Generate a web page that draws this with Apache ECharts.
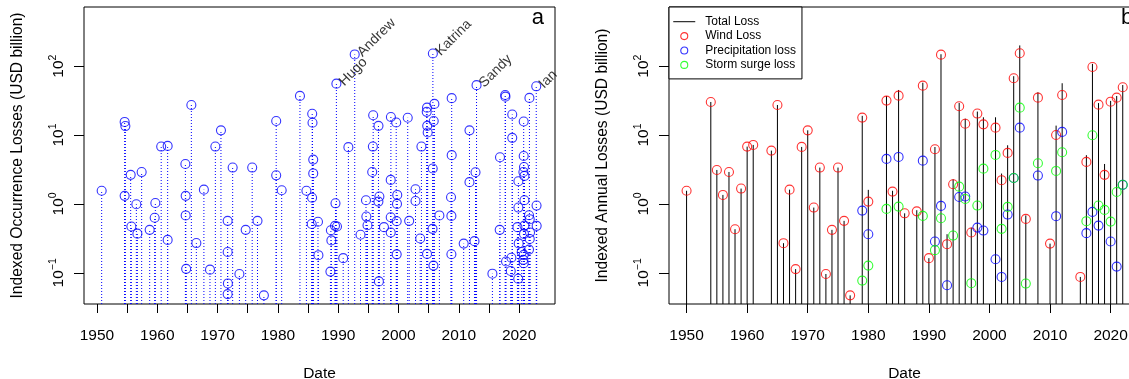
<!DOCTYPE html>
<html>
<head>
<meta charset="utf-8">
<script src="https://cdn.jsdelivr.net/npm/echarts@6/dist/echarts.min.js"></script>
<style>
  html, body { margin: 0; padding: 0; background: #fff; }
  #chart { width: 1129px; height: 379px; }
</style>
</head>
<body>
<div id="chart"></div>
<script>
// panel a: single events, decimal year and indexed loss (USD billion)
var eventYears = [
    1950.78, 1954.59, 1954.71, 1954.59, 1955.59, 1955.70, 1956.53, 1956.70, 1957.41, 1958.74,
    1959.57, 1959.68, 1960.65, 1961.72, 1961.72, 1964.66, 1964.71, 1964.71, 1964.79, 1965.65,
    1966.48, 1967.73, 1968.74, 1969.63, 1970.56, 1971.67, 1971.67, 1971.71, 1971.67, 1972.50,
    1973.62, 1974.66, 1975.74, 1976.62, 1977.68, 1979.72, 1979.72, 1980.63, 1983.66, 1984.73,
    1985.69, 1985.74, 1985.86, 1985.86, 1985.67, 1985.61, 1986.65, 1986.72, 1988.79, 1988.87,
    1988.71, 1989.55, 1989.47, 1989.80, 1989.70, 1990.83, 1991.69, 1992.74, 1993.70, 1994.61,
    1994.67, 1994.86, 1995.80, 1995.75, 1995.64, 1996.68, 1996.83, 1996.67, 1996.75, 1997.59,
    1998.74, 1998.71, 1998.71, 1998.71, 1999.62, 1999.79, 1999.75, 1999.70, 1999.70, 2001.53,
    2001.77, 2002.82, 2002.82, 2003.60, 2003.80, 2004.73, 2004.68, 2004.76, 2004.84, 2004.73,
    2005.70, 2005.95, 2005.84, 2005.67, 2005.64, 2005.79, 2006.78, 2008.82, 2008.82, 2008.71,
    2008.77, 2008.77, 2010.81, 2011.77, 2011.77, 2012.60, 2012.77, 2012.94, 2015.57, 2016.78,
    2016.83, 2017.69, 2017.73, 2017.83, 2018.61, 2018.72, 2018.86, 2018.86, 2019.85, 2019.88,
    2019.88, 2019.72, 2019.93, 2020.43, 2020.76, 2020.76, 2020.81, 2020.71, 2020.88, 2020.88,
    2020.88, 2020.81, 2020.76, 2020.71, 2020.76, 2021.71, 2021.64, 2021.76, 2021.81, 2021.76,
    2021.64, 2022.84, 2022.89, 2022.91
];
var eventLosses = [
    1.55, 15.5, 13.5, 1.31, 2.64, 0.47, 0.99, 0.37, 2.9, 0.42,
    0.63, 1.03, 6.8, 6.95, 0.30, 3.8, 1.31, 0.68, 0.114, 27.3,
    0.27, 1.61, 0.111, 6.8, 11.7, 0.567, 0.20, 0.07, 0.049, 3.37,
    0.096, 0.42, 3.37, 0.567, 0.047, 16.0, 2.6, 1.58, 37, 1.55,
    20.4, 15.1, 4.4, 2.77, 1.23, 0.51, 0.55, 0.18, 0.415, 0.295,
    0.104, 1.02, 0.48, 0.47, 55.7, 0.163, 6.67, 148, 0.357, 1.13,
    0.655, 0.49, 19.4, 6.8, 2.91, 13.6, 1.28, 1.08, 0.075, 0.46,
    18.3, 2.23, 0.64, 0.384, 15.2, 1.35, 1.0, 0.56, 0.185, 17.8,
    0.567, 1.63, 1.1, 0.314, 6.8, 25, 21.7, 13.6, 10.9, 0.188,
    153, 28.3, 16, 3.27, 0.434, 0.127, 0.68, 34.3, 5.1, 1.25,
    0.67, 0.186, 0.265, 11.7, 2.07, 0.288, 2.88, 53, 0.097, 0.42,
    4.76, 38.2, 36.1, 0.146, 0.106, 0.165, 19.9, 9.1, 0.082, 2.13,
    0.885, 0.46, 0.267, 0.2, 15.7, 4.97, 3.44, 2.91, 2.55, 1.13,
    0.484, 0.367, 0.182, 0.154, 0.138, 34.6, 0.685, 0.6, 0.384, 0.31,
    0.217, 51, 0.946, 0.48
];
var stormNames = ['Hugo', 'Andrew', 'Katrina', 'Sandy', 'Ian'];
var stormYears = [1989.70, 1992.74, 2005.70, 2012.94, 2022.84];

// panel b: yearly totals and their parts
var annualYears = [
    1950, 1954, 1955, 1956, 1957, 1958, 1959, 1960, 1961, 1964, 1965, 1966, 1967, 1968, 1969,
    1970, 1971, 1972, 1973, 1974, 1975, 1976, 1977, 1979, 1980, 1983, 1984, 1985, 1986, 1988,
    1989, 1990, 1991, 1992, 1993, 1994, 1995, 1996, 1997, 1998, 1999, 2001, 2002, 2003, 2004,
    2005, 2006, 2008, 2010, 2011, 2012, 2015, 2016, 2017, 2018, 2019, 2020, 2021, 2022
];
var totalLoss = [
    1.55, 30.2, 3.11, 1.35, 2.91, 0.429, 1.67, 6.79, 7.18, 5.94, 27.3, 0.269, 1.61, 0.113, 6.72,
    11.7, 0.885, 3.37, 0.096, 0.42, 3.37, 0.567, 0.047, 19, 1.6, 36.9, 1.55, 45.1, 0.73, 0.81,
    57.5, 0.163, 6.7, 149, 0.363, 2.28, 29.2, 17.3, 0.453, 21.9, 18.1, 18.1, 2.76, 7.1, 71.5,
    200, 0.68, 41.8, 0.265, 13.7, 56.5, 0.087, 5.1, 108, 29.1, 3.8, 31.3, 36.9, 53.2
];
var windLoss = [
    1.55, 30.2, 3.11, 1.35, 2.91, 0.429, 1.67, 6.79, 7.18, 5.94, 27.3, 0.269, 1.61, 0.113, 6.72,
    11.7, 0.885, 3.37, 0.096, 0.42, 3.37, 0.567, 0.047, 17.9, 1.08, 31.6, 1.51, 37.3, 0.73, 0.78,
    52.1, 0.163, 6.22, 147, 0.26, 1.93, 26.2, 14.6, 0.384, 20.5, 14.3, 12.8, 2.21, 5.5, 66.7,
    154, 0.606, 34.9, 0.265, 10.0, 38.2, 0.087, 4.07, 97.3, 27.6, 2.64, 30.5, 34.9, 49.4
];
var precipYears = [1979, 1980, 1983, 1985, 1989, 1991, 1992, 1993, 1995, 1996, 1998, 1999, 2001,
    2002, 2003, 2004, 2005, 2008, 2011, 2012, 2016, 2017, 2018, 2020, 2021, 2022];
var precipLoss = [0.8, 0.363, 4.5, 4.81, 4.25, 0.284, 0.935, 0.066, 1.26, 1.28, 0.453, 0.41, 0.157,
    0.087, 0.7, 2.38, 12.8, 2.58, 0.663, 11.1, 0.376, 0.766, 0.484, 0.284, 0.123, 1.89];
var surgeYears = [1979, 1980, 1983, 1985, 1989, 1991, 1992, 1994, 1995, 1996, 1997, 1998, 1999, 2001,
    2002, 2003, 2004, 2005, 2006, 2008, 2011, 2012, 2016, 2017, 2018, 2019, 2020, 2021, 2022];
var surgeLoss = [0.077, 0.127, 0.846, 0.914, 0.67, 0.213, 0.62, 0.347, 1.78, 1.18, 0.0706, 0.946, 3.25,
    5.14, 0.434, 0.904, 2.38, 25, 0.0697, 3.9, 3.01, 5.63, 0.561, 9.92, 0.946, 0.818, 0.553, 1.49, 1.9];

// ticks
var yearTicksA = [1950, 1955, 1960, 1965, 1970, 1975, 1980, 1985, 1990, 1995, 2000, 2005, 2010, 2015, 2020];
var yearLabels = [1950, 1960, 1970, 1980, 1990, 2000, 2010, 2020];
var powTicks = [0.1, 1, 10, 100];

var font = '"Liberation Sans", Arial, Helvetica, sans-serif';

function zip(xs, ys) {
    return xs.map(function (x, i) { return [x, ys[i]]; });
}

function powLabel(v) {
    var e = Math.round(Math.log(v) / Math.LN10);
    return '{b|10}{s|' + (e < 0 ? '\u2212' + (-e) : e) + '}';
}

// vertical line from the bottom of the plot up to the value
function stem(color, dash) {
    return function (params, api) {
        var p = api.coord([api.value(0), api.value(1)]);
        var bottom = params.coordSys.y + params.coordSys.height;
        return {
            type: 'line',
            silent: true,
            shape: {x1: p[0], y1: bottom, x2: p[0], y2: p[1]},
            style: {stroke: color, lineWidth: 1, lineDash: dash}
        };
    };
}

function xAxis(idx, min, max, ticks) {
    return {
        type: 'value', gridIndex: idx, min: min, max: max,
        splitLine: {show: false},
        axisLine: {show: false},
        axisTick: {show: true, length: 9, customValues: ticks, lineStyle: {color: '#000'}},
        axisLabel: {
            customValues: yearLabels, margin: 24, fontSize: 15.5, fontFamily: font, color: '#000',
            formatter: function (v) { return String(v); }
        },
        name: 'Date', nameLocation: 'middle', nameGap: 62,
        nameTextStyle: {fontSize: 15.5, fontFamily: font, color: '#000'}
    };
}

function yAxis(idx, title) {
    return {
        type: 'log', gridIndex: idx, min: 0.0352, max: 723,
        splitLine: {show: false},
        axisLine: {show: false},
        axisTick: {show: true, length: 10, customValues: powTicks, lineStyle: {color: '#000'}},
        axisLabel: {
            customValues: powTicks, rotate: 90, margin: 17, formatter: powLabel,
            rich: {
                b: {fontSize: 15.5, fontFamily: font, color: '#000', padding: [3, 0, 0, 0], verticalAlign: 'bottom'},
                s: {fontSize: 10.5, fontFamily: font, color: '#000', verticalAlign: 'top'}
            }
        },
        name: title, nameLocation: 'middle', nameGap: 58,
        nameTextStyle: {fontSize: 15.6, fontFamily: font, color: '#000'}
    };
}

function ring(color) {
    return {color: 'rgba(0,0,0,0)', borderColor: color, borderWidth: 1.1};
}

var eventData = eventYears.map(function (yr, i) {
    var item = {value: [yr, eventLosses[i]]};
    var k = stormYears.indexOf(yr);
    if (k >= 0) {
        item.label = {show: true, formatter: stormNames[k]};
    }
    return item;
});

var lineIcon = 'path://M0,0 M27,7 M0,3H22V4H0Z';
var ringIcon = 'path://M0,0 M27,7 M7.5,3.5A3.5,3.5,0,1,1,14.5,3.5A3.5,3.5,0,1,1,7.5,3.5Z';

var option = {
    animation: false,
    backgroundColor: '#fff',
    grid: [
        {left: 84, right: 574, top: 7, bottom: 75, outerBoundsMode: 'none', show: true, borderColor: '#000', borderWidth: 1},
        {left: 669, right: -11, top: 7, bottom: 75, outerBoundsMode: 'none', show: true, borderColor: '#000', borderWidth: 1}
    ],
    xAxis: [
        xAxis(0, 1947.85, 2025.95, yearTicksA),
        xAxis(1, 1947.1, 2024.85, yearLabels)
    ],
    yAxis: [
        yAxis(0, 'Indexed Occurrence Losses (USD billion)'),
        yAxis(1, 'Indexed Annual Losses (USD billion)')
    ],
    legend: {
        orient: 'vertical', left: 669, top: 7,
        padding: [7.7, 6, 7, 3.7],
        itemWidth: 27, itemHeight: 7, itemGap: 0.4,
        symbolKeepAspect: true,
        selectedMode: false,
        backgroundColor: '#fff', borderColor: '#000', borderWidth: 1,
        textStyle: {fontFamily: font, fontSize: 12, color: '#000', lineHeight: 14},
        data: [
            {name: 'Total Loss', icon: lineIcon, itemStyle: {color: '#000', borderWidth: 0}},
            {name: 'Wind Loss', icon: ringIcon, itemStyle: ring('#ff0000')},
            {name: 'Precipitation loss', icon: ringIcon, itemStyle: ring('#0000ff')},
            {name: 'Storm surge loss', icon: ringIcon, itemStyle: ring('#00ff00')}
        ]
    },
    graphic: [
        {type: 'text', x: 544, y: 18, style: {text: 'a', fontSize: 22, fontFamily: font, fill: '#000', align: 'right', verticalAlign: 'middle'}},
        {type: 'text', x: 1121, y: 18, style: {text: 'b', fontSize: 22, fontFamily: font, fill: '#000', align: 'left', verticalAlign: 'middle'}}
    ],
    series: [
        {
            name: 'event stems', type: 'custom', xAxisIndex: 0, yAxisIndex: 0, silent: true,
            renderItem: stem('#0000ff', [1, 2]), data: zip(eventYears, eventLosses), z: 1
        },
        {
            name: 'events', type: 'scatter', xAxisIndex: 0, yAxisIndex: 0, silent: true,
            symbol: 'circle', symbolSize: 9, itemStyle: ring('#0000ff'),
            label: {show: false, position: 'right', distance: 0, rotate: 45, fontSize: 14, fontFamily: font, color: '#000'},
            data: eventData, z: 2
        },
        {
            name: 'Total Loss', type: 'custom', xAxisIndex: 1, yAxisIndex: 1, silent: true,
            renderItem: stem('#000', null), data: zip(annualYears, totalLoss), z: 1
        },
        {
            name: 'Wind Loss', type: 'scatter', xAxisIndex: 1, yAxisIndex: 1, silent: true,
            symbol: 'circle', symbolSize: 9, itemStyle: ring('#ff0000'),
            data: zip(annualYears, windLoss), z: 2
        },
        {
            name: 'Precipitation loss', type: 'scatter', xAxisIndex: 1, yAxisIndex: 1, silent: true,
            symbol: 'circle', symbolSize: 9, itemStyle: ring('#0000ff'),
            data: zip(precipYears, precipLoss), z: 2
        },
        {
            name: 'Storm surge loss', type: 'scatter', xAxisIndex: 1, yAxisIndex: 1, silent: true,
            symbol: 'circle', symbolSize: 9, itemStyle: ring('#00ff00'),
            data: zip(surgeYears, surgeLoss), z: 2
        }
    ]
};

var myChart = echarts.init(document.getElementById('chart'));
myChart.setOption(option);
</script>
</body>
</html>
